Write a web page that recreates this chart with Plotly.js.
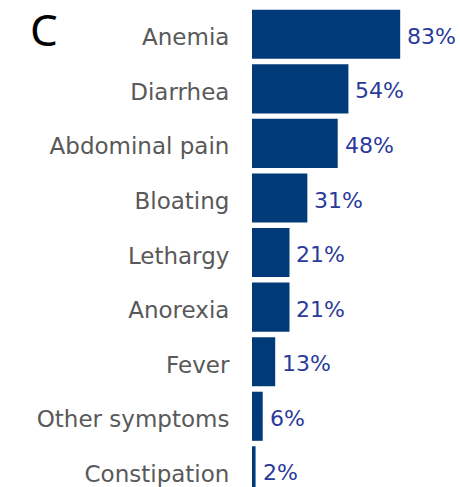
<!DOCTYPE html>
<html><head><meta charset="utf-8">
<script src="https://cdn.plot.ly/plotly-3.0.1.min.js"></script>
<style>html,body{margin:0;padding:0;background:#fff;}#chart{width:460px;height:487px;}</style>
</head><body><div id="chart"></div>
<script>
const categories = ["Anemia","Diarrhea","Abdominal pain","Bloating","Lethargy","Anorexia","Fever","Other symptoms","Constipation"];
const values = [83,54,48,31,21,21,13,6,2];
const valueLabels = ["83%","54%","48%","31%","21%","21%","13%","6%","2%"];

const FONT = 'DejaVu Sans, Verdana, sans-serif';
const trace = {
  type: 'bar', orientation: 'h',
  x: values, y: categories,
  marker: {color: '#003a78'},
  hoverinfo: 'none'
};
const annotations = categories.map((c, i) => ({
  x: values[i], y: c, xref: 'x', yref: 'y',
  text: valueLabels[i], showarrow: false,
  xanchor: 'left', yanchor: 'middle', xshift: 5, yshift: -2,
  font: {family: FONT, size: 22, color: '#2b3a9a'}
}));
annotations.push({
  text: 'C', xref: 'paper', yref: 'paper',
  x: (28 - 252) / 208, y: (487 - 7 - 6) / 480,
  xanchor: 'left', yanchor: 'top', showarrow: false, yshift: 16,
  font: {family: 'Noto Sans, sans-serif', size: 44, color: '#000'}
});
const layout = {
  width: 460, height: 487,
  margin: {l: 252, r: 0, t: 7, b: 0},
  paper_bgcolor: '#fff', plot_bgcolor: '#fff',
  bargap: 0.1,
  showlegend: false,
  xaxis: {range: [0, 116.5], visible: false, fixedrange: true},
  yaxis: {
    type: 'category', range: [8.296, -0.5],
    showgrid: false, zeroline: false, showline: false,
    ticks: 'outside', ticklen: 17, tickcolor: 'rgba(0,0,0,0)',
    ticklabelshift: -3,
    tickfont: {family: FONT, size: 23, color: '#595959'}
  },
  annotations: annotations
};
Plotly.newPlot('chart', [trace], layout, {displayModeBar: false, staticPlot: true});
</script></body></html>
